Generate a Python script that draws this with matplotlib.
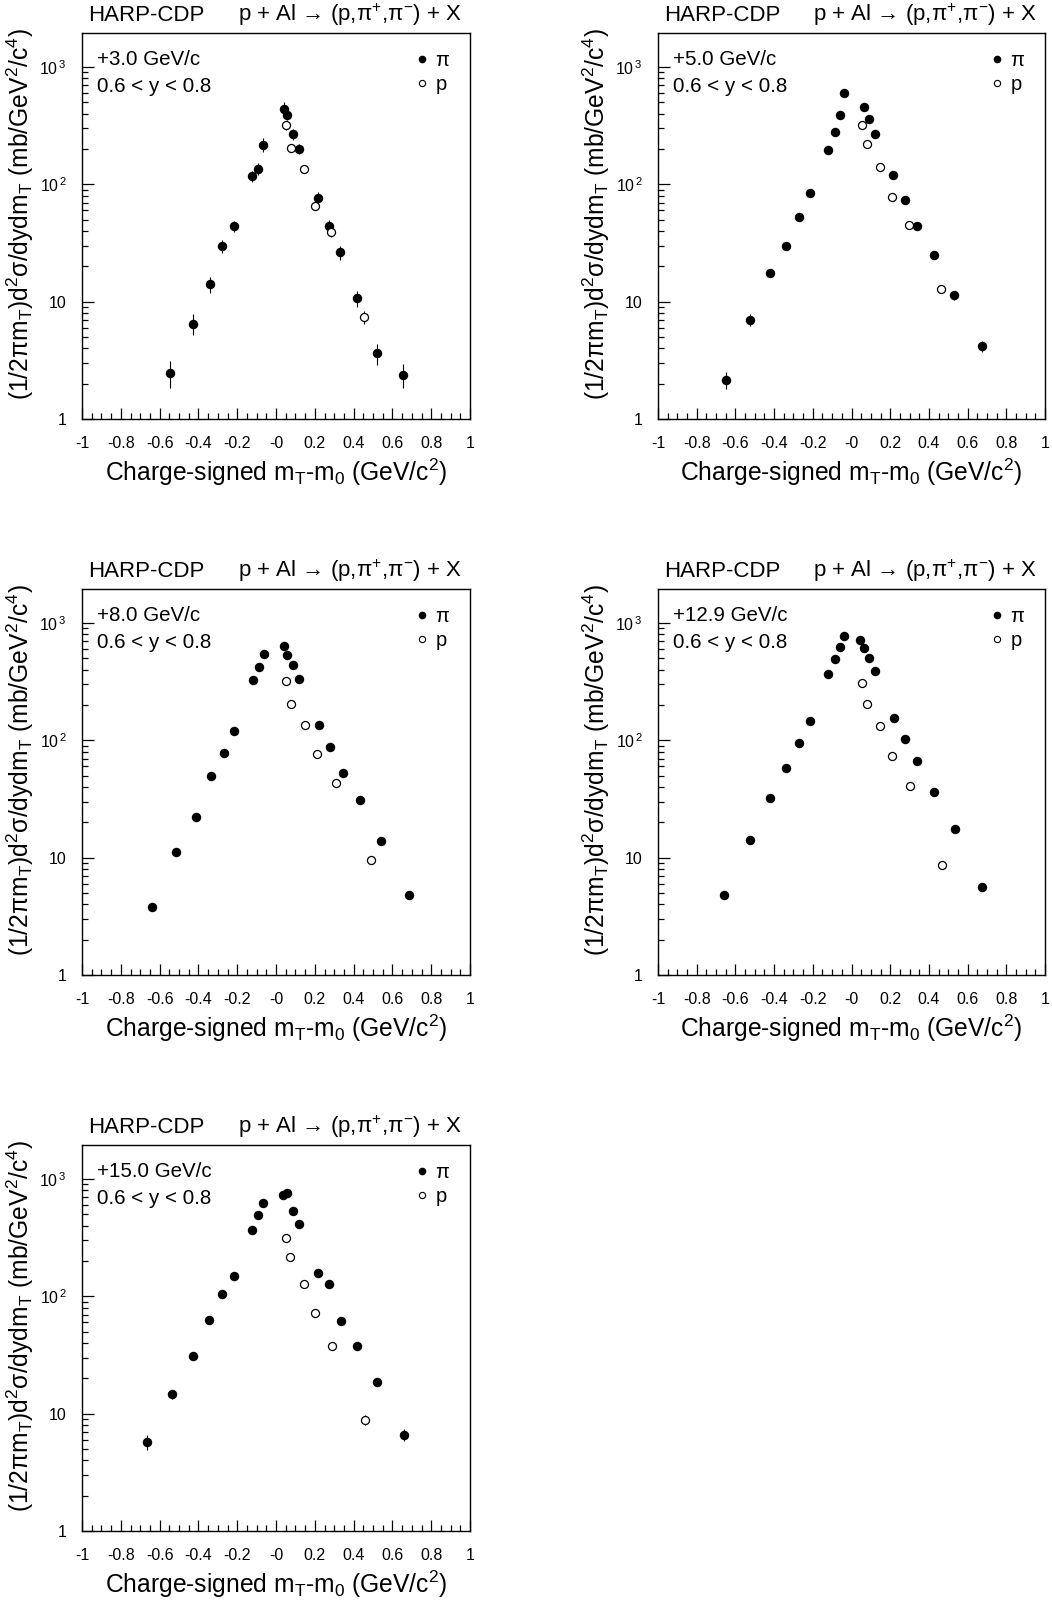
import matplotlib
matplotlib.use('Agg')
import matplotlib.pyplot as plt
from matplotlib.lines import Line2D
from matplotlib.ticker import MultipleLocator, LogLocator, NullFormatter

plt.rcParams['font.family'] = ['Liberation Sans', 'DejaVu Sans']
plt.rcParams['mathtext.fontset'] = 'custom'
plt.rcParams['mathtext.rm'] = 'Liberation Sans'
plt.rcParams['mathtext.it'] = 'Liberation Sans'
plt.rcParams['mathtext.bf'] = 'Liberation Sans:bold'
plt.rcParams['mathtext.default'] = 'regular'

# ---------------- data ----------------
beam_labels = ["+3.0 GeV/c", "+5.0 GeV/c", "+8.0 GeV/c", "+12.9 GeV/c", "+15.0 GeV/c"]
rapidity_label = "0.6 < y < 0.8"

pi_x_3 = [-0.544, -0.427, -0.341, -0.276, -0.219, -0.123, -0.092, -0.066, 0.039, 0.059,
          0.087, 0.118, 0.214, 0.271, 0.331, 0.417, 0.520, 0.653]
pi_y_3 = [2.47, 6.5, 14.1, 30, 43.9, 117, 136, 218, 441, 393, 267, 200, 77, 44.4, 26.3, 10.7, 3.65, 2.39]
pi_e_3 = [0.65, 1.3, 2.2, 3.8, 4.5, 13, 16, 30, 60, 40, 30, 20, 9, 5, 3.5, 1.7, 0.75, 0.55]
p_x_3 = [0.051, 0.075, 0.144, 0.202, 0.286, 0.453]
p_y_3 = [318, 203, 134, 65.8, 39, 7.35]
p_e_3 = [25, 15, 10, 5, 3.5, 0.9]

pi_x_5 = [-0.647, -0.522, -0.422, -0.340, -0.272, -0.217, -0.121, -0.086, -0.060, -0.041,
          0.064, 0.090, 0.121, 0.217, 0.274, 0.341, 0.426, 0.531, 0.672]
pi_y_5 = [2.16, 7.02, 17.6, 29.6, 52.3, 83.8, 195, 279, 390, 597, 459, 363, 267, 119, 74, 44.4, 25.2, 11.3, 4.16]
pi_e_5 = [0.35, 0.8, 1.2, 1.8, 3, 5, 12, 15, 20, 30, 25, 20, 15, 7, 4, 2.5, 1.5, 0.9, 0.45]
p_x_5 = [0.055, 0.079, 0.147, 0.209, 0.297, 0.460]
p_y_5 = [323, 222, 140, 78, 45.3, 12.7]
p_e_5 = [15, 10, 7, 4, 2.5, 0.9]

pi_x_8 = [-0.639, -0.514, -0.411, -0.333, -0.268, -0.215, -0.120, -0.089, -0.062, 0.040,
          0.058, 0.088, 0.120, 0.220, 0.277, 0.344, 0.431, 0.543, 0.684]
pi_y_8 = [3.8, 11.2, 22.4, 49.7, 77.5, 120, 325, 422, 548, 632, 534, 442, 333, 135, 88, 52.7, 30.8, 13.9, 4.8]
pi_e_8 = [0.25, 0.6, 1.1, 2.5, 3.5, 6, 15, 20, 25, 30, 25, 20, 15, 6, 4, 2.5, 1.5, 0.7, 0.3]
p_x_8 = [0.053, 0.076, 0.149, 0.211, 0.309, 0.491]
p_y_8 = [318, 203, 134, 76, 43.6, 9.5]
p_e_8 = [12, 8, 6, 3, 2, 0.5]

pi_x_129 = [-0.657, -0.526, -0.419, -0.338, -0.271, -0.216, -0.121, -0.086, -0.060, -0.041,
            0.043, 0.066, 0.090, 0.122, 0.221, 0.276, 0.341, 0.428, 0.534, 0.672]
pi_y_129 = [4.77, 14.1, 32, 57.7, 95, 146, 365, 493, 628, 775, 716, 608, 507, 393, 154, 102, 66.7, 36.5, 17.7, 5.66]
pi_e_129 = [0.3, 0.7, 1.3, 2.5, 4, 6, 15, 20, 25, 30, 30, 25, 20, 16, 6, 4, 3, 1.6, 0.9, 0.4]
p_x_129 = [0.055, 0.079, 0.148, 0.210, 0.302, 0.466]
p_y_129 = [310, 203, 133, 74, 40.8, 8.6]
p_e_129 = [12, 8, 5, 3, 2, 0.5]

pi_x_15 = [-0.666, -0.534, -0.429, -0.343, -0.276, -0.219, -0.123, -0.092, -0.065, 0.037,
           0.058, 0.087, 0.120, 0.214, 0.271, 0.333, 0.419, 0.522, 0.660]
pi_y_15 = [5.73, 14.7, 31.3, 62.8, 104, 148, 369, 495, 620, 725, 754, 529, 412, 157, 127, 62, 37.4, 18.7, 6.6]
pi_e_15 = [0.8, 1.3, 1.8, 3, 5, 7, 15, 20, 25, 30, 30, 25, 18, 7, 6, 3, 2, 1.2, 0.8]
p_x_15 = [0.050, 0.073, 0.142, 0.200, 0.290, 0.460]
p_y_15 = [317, 215, 128, 72.5, 38.1, 8.89]
p_e_15 = [12, 9, 5, 3, 2, 0.9]

x_ticks = [-1, -0.8, -0.6, -0.4, -0.2, 0, 0.2, 0.4, 0.6, 0.8, 1]
x_tick_labels = ['-1', '-0.8', '-0.6', '-0.4', '-0.2', '-0', '0.2', '0.4', '0.6', '0.8', '1']
y_ticks = [1, 10, 100, 1000]
y_tick_labels = ['1', '10', '$10^{\\,2}$', '$10^{\\,3}$']

panels = [
    (pi_x_3, pi_y_3, pi_e_3, p_x_3, p_y_3, p_e_3),
    (pi_x_5, pi_y_5, pi_e_5, p_x_5, p_y_5, p_e_5),
    (pi_x_8, pi_y_8, pi_e_8, p_x_8, p_y_8, p_e_8),
    (pi_x_129, pi_y_129, pi_e_129, p_x_129, p_y_129, p_e_129),
    (pi_x_15, pi_y_15, pi_e_15, p_x_15, p_y_15, p_e_15),
]

# ---------------- layout ----------------
W, H = 1052, 1604
fig = plt.figure(figsize=(W / 100, H / 100), dpi=100)
fig.patch.set_facecolor('white')

boxes_px = [(82, 33, 470, 419), (658, 33, 1045, 419),
            (82, 589, 470, 975), (658, 589, 1045, 975),
            (82, 1145, 470, 1531)]

for i, (box, data) in enumerate(zip(boxes_px, panels)):
    l, t, r, b = box
    ax = fig.add_axes([l / W, 1 - b / H, (r - l) / W, (b - t) / H])
    pix, piy, pie, px, py, pe = data
    ax.errorbar(pix, piy, yerr=pie, fmt='o', ms=5.8, mfc='black', mec='black',
                ecolor='black', elinewidth=0.8, capsize=0, zorder=3)
    ax.errorbar(px, py, yerr=pe, fmt='o', ms=5.8, mfc='white', mec='black', mew=0.9,
                ecolor='black', elinewidth=0.8, capsize=0, zorder=3)
    ax.set_yscale('log')
    ax.set_xlim(-1, 1)
    ax.set_ylim(1, 1950)
    ax.set_xticks(x_ticks, labels=x_tick_labels)
    ax.xaxis.set_minor_locator(MultipleLocator(0.05))
    ax.set_yticks(y_ticks, labels=y_tick_labels)
    ax.yaxis.set_minor_locator(LogLocator(base=10, subs=range(2, 10)))
    ax.yaxis.set_minor_formatter(NullFormatter())
    ax.tick_params(which='both', direction='in', top=False, right=False, width=0.9, color='black')
    ax.tick_params(axis='x', which='major', length=8, pad=12, labelsize=11.5)
    ax.tick_params(axis='x', which='minor', length=4.3)
    ax.tick_params(axis='y', which='major', length=8.6, pad=11, labelsize=11.5)
    ax.tick_params(axis='y', which='minor', length=4.3)
    for s in ax.spines.values():
        s.set_linewidth(1.0)

    ax.set_xlabel('Charge-signed m$_{T}$-m$_{0}$ (GeV/c$^{2}$)', fontsize=17.7)
    ax.xaxis.set_label_coords(0.5, -0.097)
    ax.set_ylabel('(1/2$\\pi$m$_{T}$)d$^{2}\\sigma$/dydm$_{T}$ (mb/GeV$^{2}$/c$^{4}$)', fontsize=17.7)
    ax.yaxis.set_label_coords(-0.118, 0.53)

    ax.text(0.017, 1.032, 'HARP-CDP', transform=ax.transAxes, fontsize=16,
            ha='left', va='baseline')
    ax.text(0.978, 1.032, 'p + Al \u2192 (p,$\\pi^{+}$,$\\pi^{-}$) + X', transform=ax.transAxes,
            fontsize=16, ha='right', va='baseline')
    ax.text(0.039, 0.917, beam_labels[i], transform=ax.transAxes, fontsize=14.8,
            ha='left', va='baseline')
    ax.text(0.039, 0.846, rapidity_label, transform=ax.transAxes, fontsize=14.8,
            ha='left', va='baseline')

    h_pi = Line2D([], [], ls='none', marker='o', ms=4.5, mfc='black', mec='black')
    h_p = Line2D([], [], ls='none', marker='o', ms=4.5, mfc='white', mec='black', mew=0.8)
    ax.legend([h_pi, h_p], ['\u03c0', 'p'], loc='upper left', bbox_to_anchor=(0.858, 0.954),
              frameon=False, borderpad=0, borderaxespad=0, handlelength=0.7,
              handletextpad=0.31, labelspacing=0.26, fontsize=14.5)

fig.savefig('out.png', dpi=100, facecolor='white')
